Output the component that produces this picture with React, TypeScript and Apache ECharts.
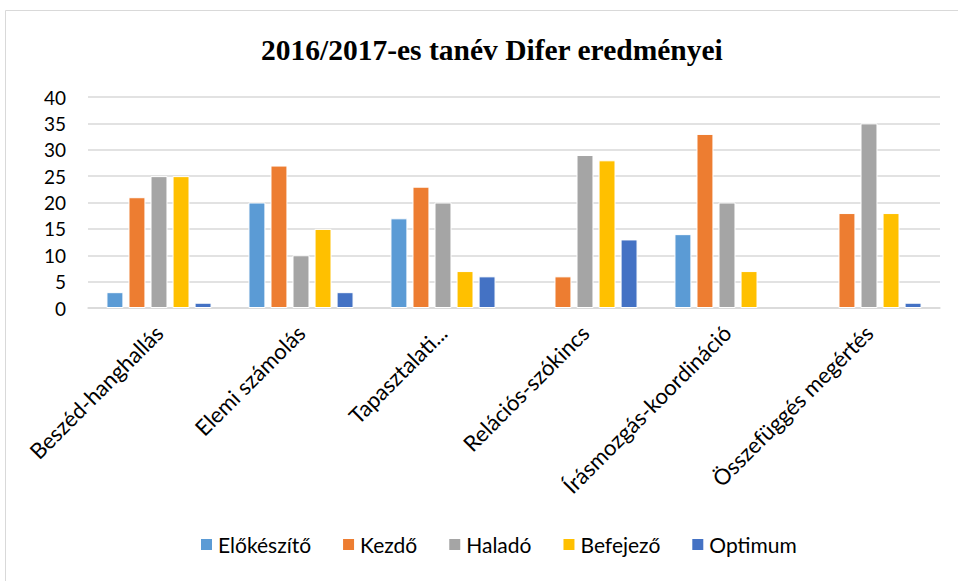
import React, { useEffect, useRef } from "react";
import * as echarts from "echarts";

const categories = [
  "Beszéd-hanghallás",
  "Elemi számolás",
  "Tapasztalati...",
  "Relációs-szókincs",
  "Írásmozgás-koordináció",
  "Összefüggés megértés",
];
const seriesNames = ["Előkészítő", "Kezdő", "Haladó", "Befejező", "Optimum"];
const elokeszito = [3, 20, 17, 0, 14, 0];
const kezdo = [21, 27, 23, 6, 33, 18];
const halado = [25, 10, 20, 29, 20, 35];
const befejezo = [25, 15, 7, 28, 7, 18];
const optimum = [1, 3, 6, 13, 0, 1];
const colors = ["#5B9BD5", "#ED7D31", "#A5A5A5", "#FFC000", "#4472C4"];
const yTicks = { min: 0, max: 40, interval: 5 };

export default function App() {
  const ref = useRef<HTMLDivElement>(null);
  useEffect(() => {
    if (!ref.current) return;
    const chart = echarts.init(ref.current, null, { renderer: "svg" });
    const values = [elokeszito, kezdo, halado, befejezo, optimum];
    const font = "Lato, 'Open Sans', sans-serif";
    chart.setOption({
      animation: false,
      backgroundColor: "#ffffff",
      title: {
        text: "2016/2017-es tanév Difer eredményei",
        left: 256,
        top: 30,
        textStyle: {
          fontFamily: "'Liberation Serif', 'Times New Roman', serif",
          fontWeight: "bold",
          fontSize: 29.5,
          color: "#000000",
        },
      },
      graphic: [
        {
          type: "rect",
          shape: { x: 5.5, y: 10.5, width: 1000, height: 600 },
          style: { fill: "none", stroke: "#d9d9d9", lineWidth: 1 },
          silent: true,
        },
      ],
      legend: {
        bottom: 21,
        left: 194,
        itemWidth: 13,
        itemHeight: 13,
        itemGap: 30,
        icon: "rect",
        textStyle: { fontFamily: font, fontSize: 21, color: "#000000" },
        data: seriesNames,
      },
      grid: { left: 88, right: 18, top: 97, bottom: 273, containLabel: false },
      xAxis: {
        type: "category",
        data: categories,
        axisLine: { lineStyle: { color: "#d9d9d9", width: 1.5 } },
        axisTick: { show: false },
        axisLabel: {
          rotate: 45,
          interval: 0,
          margin: 21,
          fontFamily: font,
          fontSize: 22,
          color: "#000000",
        },
      },
      yAxis: {
        type: "value",
        min: yTicks.min,
        max: yTicks.max,
        interval: yTicks.interval,
        axisLine: { show: false },
        axisTick: { show: false },
        splitLine: { lineStyle: { color: "#d9d9d9", width: 1.5 } },
        axisLabel: {
          fontFamily: font,
          fontSize: 19,
          color: "#000000",
          margin: 22,
        },
      },
      series: seriesNames.map((name, i) => ({
        name,
        type: "bar",
        data: values[i].map((v) => (v === 0 ? null : v)),
        barGap: "30%",
        barCategoryGap: "26%",
        itemStyle: { color: colors[i], borderColor: "#ffffff", borderWidth: 1 },
      })),
    });
    return () => chart.dispose();
  }, []);
  return (
    <div
      ref={ref}
      style={{ position: "fixed", left: 0, top: 0, width: 958, height: 581 }}
    />
  );
}
